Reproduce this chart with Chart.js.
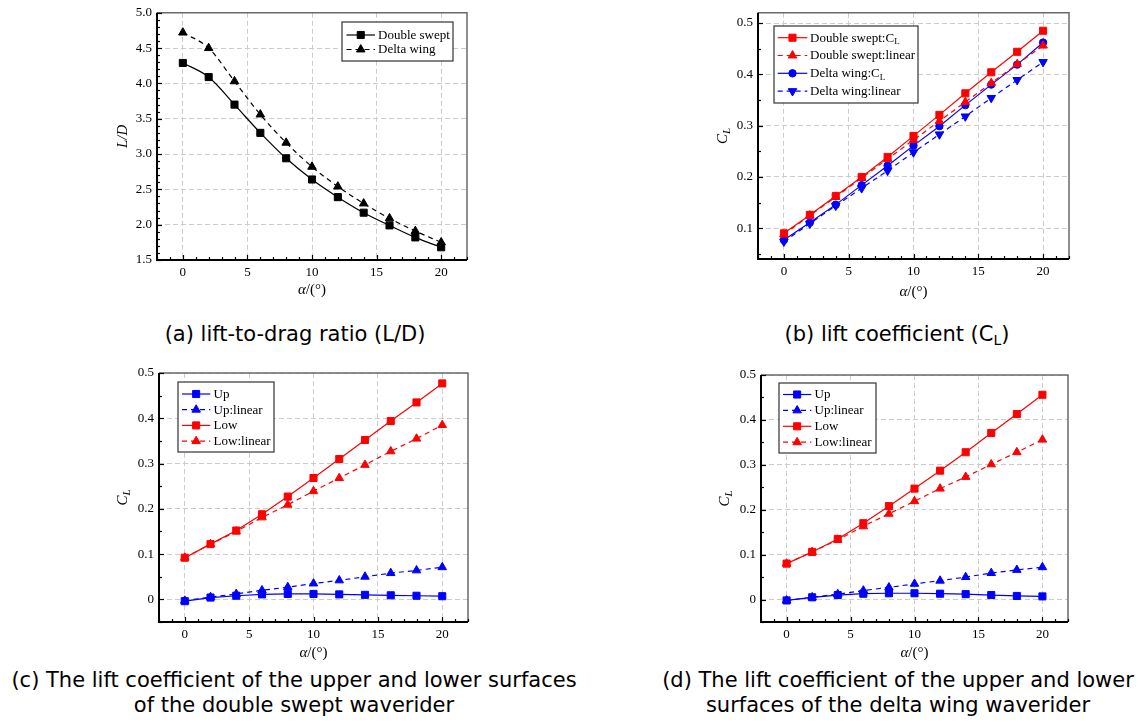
<!DOCTYPE html>
<html><head><meta charset="utf-8">
<script src="https://cdn.jsdelivr.net/npm/chart.js@4/dist/chart.umd.min.js"></script>
<style>
html,body{margin:0;padding:0;background:#fff;}
#wrap{position:relative;width:1141px;height:724px;overflow:hidden;background:#fff;}
canvas{position:absolute;}
.cap{position:absolute;font-family:"DejaVu Sans",sans-serif;font-size:21px;color:#000;text-align:center;line-height:25px;white-space:nowrap;}
.cap sub{font-size:14px;vertical-align:-4px;line-height:0;}
</style></head><body>
<div id="wrap">
<canvas id="ca" width="385" height="310" style="left:95px;top:0px"></canvas>
<canvas id="cb" width="446" height="310" style="left:695px;top:0px"></canvas>
<canvas id="cc" width="385" height="300" style="left:95px;top:360px"></canvas>
<canvas id="cd" width="446" height="300" style="left:695px;top:360px"></canvas>
<div class="cap" style="left:95px;width:400px;top:322px">(a) lift-to-drag ratio (L/D)</div>
<div class="cap" style="left:697px;width:400px;top:322px">(b) lift coefficient (C<sub>L</sub>)</div>
<div class="cap" style="left:0px;width:588px;top:668px">(c) The lift coefficient of the upper and lower surfaces<br>of the double swept waverider</div>
<div class="cap" style="left:598px;width:600px;top:668px">(d) The lift coefficient of the upper and lower<br>surfaces of the delta wing waverider</div>
</div>
<script>
// ---------- data ----------
const alpha = [0, 2, 4, 6, 8, 10, 12, 14, 16, 18, 20];
// (a) lift-to-drag ratio
const ldDoubleSwept = [4.29, 4.09, 3.70, 3.30, 2.94, 2.64, 2.39, 2.17, 1.99, 1.82, 1.68];
const ldDeltaWing   = [4.72, 4.50, 4.03, 3.56, 3.16, 2.82, 2.54, 2.30, 2.09, 1.91, 1.75];
// (b) lift coefficient
const clDoubleSwept    = [0.090, 0.126, 0.163, 0.200, 0.239, 0.280, 0.321, 0.363, 0.404, 0.444, 0.485];
const clDoubleSweptLin = [0.088, 0.125, 0.161, 0.198, 0.235, 0.272, 0.309, 0.346, 0.383, 0.420, 0.456];
const clDeltaWing      = [0.077, 0.111, 0.146, 0.184, 0.222, 0.261, 0.299, 0.340, 0.380, 0.419, 0.462];
const clDeltaWingLin   = [0.074, 0.109, 0.144, 0.178, 0.212, 0.248, 0.283, 0.318, 0.354, 0.389, 0.424];
// (c) double swept upper / lower
const dsUp     = [-0.004, 0.004, 0.008, 0.011, 0.012, 0.012, 0.011, 0.010, 0.009, 0.008, 0.007];
const dsUpLin  = [-0.003, 0.005, 0.012, 0.020, 0.027, 0.035, 0.042, 0.050, 0.058, 0.064, 0.071];
const dsLow    = [0.092, 0.122, 0.152, 0.188, 0.227, 0.268, 0.310, 0.352, 0.394, 0.435, 0.477];
const dsLowLin = [0.092, 0.122, 0.150, 0.181, 0.209, 0.239, 0.268, 0.297, 0.327, 0.355, 0.385];
// (d) delta wing upper / lower
const dwUp     = [-0.002, 0.005, 0.010, 0.013, 0.014, 0.014, 0.013, 0.012, 0.010, 0.008, 0.007];
const dwUpLin  = [-0.002, 0.005, 0.012, 0.020, 0.027, 0.035, 0.042, 0.050, 0.059, 0.066, 0.072];
const dwLow    = [0.080, 0.106, 0.135, 0.170, 0.208, 0.247, 0.287, 0.328, 0.371, 0.413, 0.456];
const dwLowLin = [0.080, 0.106, 0.133, 0.163, 0.191, 0.219, 0.247, 0.273, 0.301, 0.328, 0.356];
// axis tick settings
const xTickStep = 5, xMinorStep = 1;
const ldTickStep = 0.5, ldMinorStep = 0.1;
const clTickStep = 0.1, clMinorStep = 0.05;

// ---------- helpers ----------
const SERIF = '"Liberation Serif", "Times New Roman", serif';
function parseRich(label) {
  const i = label.indexOf('_');
  if (i < 0) return [{t: label}];
  return [{t: label.slice(0, i)}, {t: label.slice(i + 1), sub: true}];
}
function drawRich(ctx, parts, x, y, size, align) {
  let total = 0;
  const ws = parts.map(p => {
    ctx.font = (p.italic ? 'italic ' : '') + (p.sub ? Math.round(size * 0.7) : size) + 'px ' + SERIF;
    const w = ctx.measureText(p.t).width; total += w; return w;
  });
  let cx = align === 'left' ? x : x - total / 2;
  ctx.textBaseline = 'middle'; ctx.textAlign = 'left';
  parts.forEach((p, i) => {
    ctx.font = (p.italic ? 'italic ' : '') + (p.sub ? Math.round(size * 0.7) : size) + 'px ' + SERIF;
    ctx.fillText(p.t, cx, y + (p.sub ? size * 0.28 : 0));
    cx += ws[i];
  });
}
function marker(ctx, d, x, y) {
  ctx.save();
  ctx.fillStyle = d.backgroundColor; ctx.strokeStyle = d.borderColor; ctx.lineWidth = 1; ctx.setLineDash([]);
  Chart.helpers.drawPoint(ctx, {pointStyle: d.pointStyle, rotation: d.pointRotation || 0, radius: d.pointRadius, borderWidth: 1}, x, y);
  ctx.restore();
}

const framePlugin = {
  id: 'frame',
  afterDraw(chart, args, o) {
    const ctx = chart.ctx, a = chart.chartArea, xs = chart.scales.x, ys = chart.scales.y;
    ctx.save();
    // frame
    ctx.strokeStyle = '#6a6a6a'; ctx.lineWidth = 1.5;
    ctx.beginPath(); ctx.moveTo(a.left, a.top); ctx.lineTo(a.right, a.top); ctx.lineTo(a.right, a.bottom); ctx.stroke();
    ctx.strokeStyle = '#000'; ctx.lineWidth = 2;
    ctx.beginPath(); ctx.moveTo(a.left, a.top); ctx.lineTo(a.left, a.bottom); ctx.lineTo(a.right, a.bottom); ctx.stroke();
    // inward ticks
    ctx.lineWidth = 1.2;
    const ticks = (scale, minor, major, horiz) => {
      const n0 = Math.ceil(scale.min / minor - 1e-6), n1 = Math.floor(scale.max / minor + 1e-6);
      for (let n = n0; n <= n1; n++) {
        const v = n * minor;
        const isMajor = Math.abs(v / major - Math.round(v / major)) < 1e-6;
        const len = isMajor ? 5 : 3;
        const p = Math.round(scale.getPixelForValue(v)) + 0.5;
        ctx.beginPath();
        if (horiz) { ctx.moveTo(p, a.bottom); ctx.lineTo(p, a.bottom - len); }
        else { ctx.moveTo(a.left, p); ctx.lineTo(a.left + len, p); }
        ctx.stroke();
      }
    };
    ticks(xs, o.xMinor, o.xMajor, true);
    ticks(ys, o.yMinor, o.yMajor, false);
    // axis titles
    ctx.fillStyle = '#000';
    drawRich(ctx, [{t: 'α', italic: true}, {t: '/(°)'}], (a.left + a.right) / 2, a.bottom + o.xTitleDy, 15);
    ctx.save();
    ctx.translate(a.left + o.yTitleDx, (a.top + a.bottom) / 2);
    ctx.rotate(-Math.PI / 2);
    drawRich(ctx, o.yTitle, 0, 0, 15);
    ctx.restore();
    // legend box
    const L = o.legend;
    ctx.fillStyle = '#fff'; ctx.fillRect(L.x, L.y, L.w, L.h);
    ctx.strokeStyle = '#333'; ctx.lineWidth = 1.2; ctx.strokeRect(L.x, L.y, L.w, L.h);
    chart.data.datasets.forEach((d, i) => {
      const yy = L.y + L.first + i * L.step;
      ctx.strokeStyle = d.borderColor; ctx.lineWidth = d.borderWidth; ctx.setLineDash(d.borderDash || []);
      ctx.beginPath(); ctx.moveTo(L.x + L.s0, yy); ctx.lineTo(L.x + L.s1, yy); ctx.stroke();
      ctx.setLineDash([]);
      marker(ctx, d, L.x + (L.s0 + L.s1) / 2, yy);
      ctx.fillStyle = '#000';
      drawRich(ctx, parseRich(d.label), L.x + L.tx, yy + 0.5, 13, 'left');
    });
    ctx.restore();
  }
};

function series(label, vals, color, style, dashed, smooth, rot) {
  const r = style === 'rect' ? 5 : style === 'circle' ? 3.7 : 4.9;
  return {
    label, data: alpha.map((x, i) => ({x, y: vals[i]})),
    borderColor: color, backgroundColor: color, borderWidth: 1.2,
    borderDash: dashed ? [5, 4] : [],
    pointStyle: style, pointRadius: r, pointRotation: rot || 0, pointBorderWidth: 1,
    cubicInterpolationMode: smooth ? 'monotone' : 'default', tension: 0, fill: false
  };
}
function fmt1(v) { return Math.abs(v) < 1e-9 ? '0' : v.toFixed(1); }
const gridOpts = {color: '#cccccc', lineWidth: 1, drawTicks: false};
const borderOpts = {display: false, dash: [5, 3]};

function makeChart(id, c) {
  return new Chart(document.getElementById(id), {
    type: 'line',
    data: {datasets: c.datasets},
    options: {
      responsive: false, animation: false, devicePixelRatio: 1,
      layout: {padding: c.padding},
      plugins: {legend: {display: false}, tooltip: {enabled: false}, frame: c.frame},
      scales: {
        x: {type: 'linear', min: -2, max: 22,
          afterFit: s => { s.height = c.hx; },
          grid: gridOpts, border: borderOpts,
          ticks: {stepSize: xTickStep, includeBounds: false, padding: 5, color: '#000', autoSkip: false, maxRotation: 0,
            font: {family: SERIF, size: 13}, callback: v => String(v)}},
        y: {type: 'linear', min: c.yMin, max: c.yMax,
          afterFit: s => { s.width = c.wy; },
          grid: gridOpts, border: borderOpts,
          ticks: {stepSize: c.yStep, includeBounds: false, padding: 5, color: '#000', autoSkip: false,
            font: {family: SERIF, size: 13}, callback: v => fmt1(v)}}
      }
    },
    plugins: [framePlugin]
  });
}
const RED = '#ff0000', BLUE = '#0000ff', BLACK = '#000000';
const CL = [{t: 'C', italic: true}, {t: 'L', italic: true, sub: true}];

makeChart('ca', {
  datasets: [
    series('Double swept', ldDoubleSwept, BLACK, 'rect', false, true),
    series('Delta wing', ldDeltaWing, BLACK, 'triangle', true, true)
  ],
  padding: {left: 0, top: 12, right: 13, bottom: 0}, wy: 62, hx: 50,
  yMin: 1.5, yMax: 5.0, yStep: ldTickStep,
  frame: {xMinor: xMinorStep, xMajor: xTickStep, yMinor: ldMinorStep, yMajor: ldTickStep, xTitleDy: 30, yTitleDx: -34,
    yTitle: [{t: 'L/D', italic: true}],
    legend: {x: 247, y: 22, w: 111, h: 39, first: 13, step: 14.5, s0: 4.5, s1: 33, tx: 36}}
});
makeChart('cb', {
  datasets: [
    series('Double swept:C_L', clDoubleSwept, RED, 'rect', false, false),
    series('Double swept:linear', clDoubleSweptLin, RED, 'triangle', true, false),
    series('Delta wing:C_L', clDeltaWing, BLUE, 'circle', false, false),
    series('Delta wing:linear', clDeltaWingLin, BLUE, 'triangle', true, false, 180)
  ],
  padding: {left: 0, top: 8, right: 72, bottom: 0}, wy: 63, hx: 51,
  yMin: 0.04, yMax: 0.52, yStep: clTickStep,
  frame: {xMinor: xMinorStep, xMajor: xTickStep, yMinor: clMinorStep, yMajor: clTickStep, xTitleDy: 33, yTitleDx: -35,
    yTitle: CL,
    legend: {x: 79, y: 26, w: 144, h: 77, first: 11.7, step: 17.8, s0: 3.7, s1: 33.3, tx: 36}}
});
makeChart('cc', {
  datasets: [
    series('Up', dsUp, BLUE, 'rect', false, false),
    series('Up:linear', dsUpLin, BLUE, 'triangle', true, false),
    series('Low', dsLow, RED, 'rect', false, false),
    series('Low:linear', dsLowLin, RED, 'triangle', true, false)
  ],
  padding: {left: 0, top: 13, right: 12, bottom: 0}, wy: 64, hx: 38,
  yMin: -0.05, yMax: 0.5, yStep: clTickStep,
  frame: {xMinor: xMinorStep, xMajor: xTickStep, yMinor: clMinorStep, yMajor: clTickStep, xTitleDy: 31, yTitleDx: -36,
    yTitle: CL,
    legend: {x: 83, y: 22, w: 96, h: 70, first: 12, step: 15.7, s0: 4, s1: 32.3, tx: 35.6}}
});
makeChart('cd', {
  datasets: [
    series('Up', dwUp, BLUE, 'rect', false, false),
    series('Up:linear', dwUpLin, BLUE, 'triangle', true, false),
    series('Low', dwLow, RED, 'rect', false, false),
    series('Low:linear', dwLowLin, RED, 'triangle', true, false)
  ],
  padding: {left: 0, top: 15, right: 73, bottom: 0}, wy: 66, hx: 38,
  yMin: -0.05, yMax: 0.5, yStep: clTickStep,
  frame: {xMinor: xMinorStep, xMajor: xTickStep, yMinor: clMinorStep, yMajor: clTickStep, xTitleDy: 31, yTitleDx: -36,
    yTitle: CL,
    legend: {x: 84, y: 23, w: 97, h: 70, first: 11.5, step: 15.9, s0: 4, s1: 32.3, tx: 35.6}}
});
</script>
</body></html>
